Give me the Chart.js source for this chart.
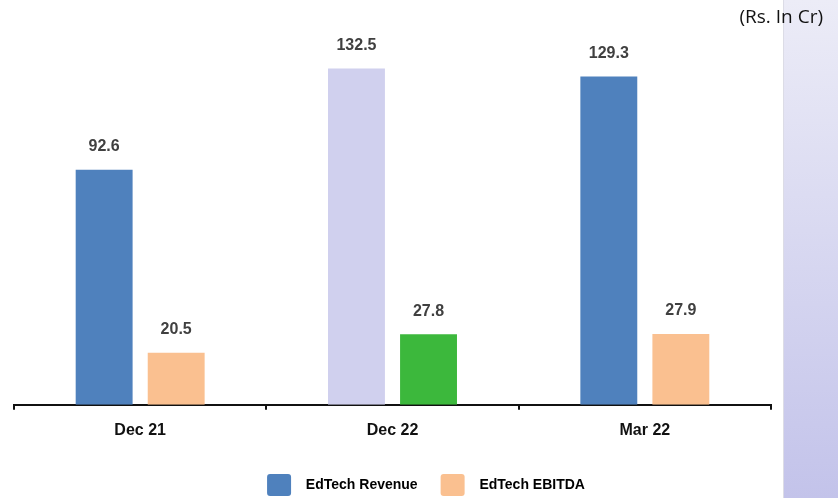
<!DOCTYPE html>
<html>
<head>
<meta charset="utf-8">
<title>EdTech</title>
<script src="https://cdn.jsdelivr.net/npm/chart.js@4.4.1/dist/chart.umd.min.js"></script>
<style>
  html, body { margin: 0; padding: 0; background: #fff; }
  #wrap { position: relative; width: 838px; height: 498px; overflow: hidden; }
  #strip { position: absolute; left: 783px; top: 0; width: 55px; height: 498px;
           background: linear-gradient(#ececf7, #c3c3ea); border-left: 1px solid #dcdce6; }
  #unit { position: absolute; right: 15px; top: 3px; font: 19px "Open Sans", sans-serif; color: #111; }
  canvas { position: absolute; left: 0; top: 0; }
</style>
</head>
<body>
<div id="wrap">
  <div id="strip"></div>
  <canvas id="chart" width="838" height="506"></canvas>
  <div id="unit">(Rs. In Cr)</div>
</div>
<script>
var periods = ["Dec 21", "Dec 22", "Mar 22"];
var revenue = [92.6, 132.5, 129.3];
var ebitda = [20.5, 27.8, 27.9];

var revColors = ["#4f81bd", "#d0d0ee", "#4f81bd"];
var ebitdaColors = ["#fac090", "#3cb83c", "#fac090"];

// value labels above each bar
var valueLabels = {
  id: "valueLabels",
  afterDatasetsDraw: function(chart) {
    var ctx = chart.ctx;
    ctx.save();
    ctx.font = "bold 16px 'Liberation Sans', sans-serif";
    ctx.fillStyle = "#404040";
    ctx.textAlign = "center";
    ctx.textBaseline = "middle";
    chart.data.datasets.forEach(function(ds, i) {
      chart.getDatasetMeta(i).data.forEach(function(bar, j) {
        ctx.fillText(ds.data[j].toFixed(1), bar.x, bar.y - 23);
      });
    });
    ctx.restore();
  }
};

new Chart("chart", {
  type: "bar",
  data: {
    labels: periods,
    datasets: [{
      label: "EdTech Revenue",
      data: revenue,
      backgroundColor: revColors,
      categoryPercentage: 0.571,
      barPercentage: 0.79
    }, {
      label: "EdTech EBITDA",
      data: ebitda,
      backgroundColor: ebitdaColors,
      categoryPercentage: 0.571,
      barPercentage: 0.79
    }]
  },
  options: {
    responsive: false,
    animation: false,
    layout: { padding: { left: 14, right: 0, top: 24, bottom: 0 } },
    plugins: {
      tooltip: { enabled: false },
      legend: {
        position: "bottom",
        labels: {
          boxWidth: 24,
          boxHeight: 22,
          padding: 23,
          color: "#111",
          font: { family: "'Liberation Sans', sans-serif", size: 14, weight: "bold" },
          generateLabels: function(chart) {
            return [
              { text: "  EdTech Revenue", fillStyle: "#4f81bd", lineWidth: 0, borderRadius: 3, datasetIndex: 0 },
              { text: "  EdTech EBITDA", fillStyle: "#fac090", lineWidth: 0, borderRadius: 3, datasetIndex: 1 }
            ];
          }
        }
      }
    },
    scales: {
      x: {
        grid: { display: true, drawOnChartArea: false, drawTicks: true, tickLength: 5, color: "#111", lineWidth: 2 },
        border: { display: true, color: "#111", width: 2 },
        ticks: {
          color: "#111",
          padding: 11,
          font: { family: "'Liberation Sans', sans-serif", size: 16, weight: "bold" }
        }
      },
      y: {
        position: "right",
        min: 0,
        max: 150,
        grid: { display: false },
        border: { display: false },
        ticks: { display: false },
        afterFit: function(scale) { scale.width = 67; }
      }
    }
  },
  plugins: [valueLabels]
});
</script>
</body>
</html>
